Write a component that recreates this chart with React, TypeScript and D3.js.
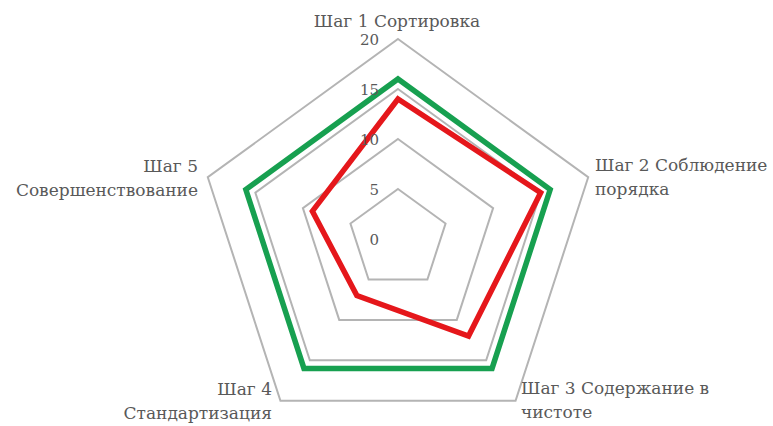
import * as d3 from "d3";

const categories = [
    ["Шаг 1 Сортировка"],
    ["Шаг 2 Соблюдение", "порядка"],
    ["Шаг 3 Содержание в", "чистоте"],
    ["Шаг 4", "Стандартизация"],
    ["Шаг 5", "Совершенствование"],
];
const greenValues = [16, 16, 16, 16, 16];
const redValues = [14, 15, 12, 7, 9];
const ticks = [0, 5, 10, 15, 20];

const width = 773;
const height = 426;
const cx = 398;
const cy = 239;

// label placement for each spoke: anchor + x + first line y
const labelPos = [
    { anchor: "middle", x: 397, y: 27 },
    { anchor: "start", x: 595, y: 171 },
    { anchor: "start", x: 521, y: 394 },
    { anchor: "end", x: 272, y: 395 },
    { anchor: "end", x: 198, y: 172 },
];

export default function App() {
    const r = d3.scaleLinear().domain([0, 20]).range([0, 200]);
    const angle = (i: number) => (i * 2 * Math.PI) / categories.length;
    const pt = (v: number, i: number): [number, number] => [
        cx + r(v) * Math.sin(angle(i)),
        cy - r(v) * Math.cos(angle(i)),
    ];

    const ring = d3
        .line<number>()
        .x((d, i) => pt(d, i)[0])
        .y((d, i) => pt(d, i)[1])
        .curve(d3.curveLinearClosed);

    return (
        <svg width={width} height={height} style={{ position: "absolute", left: 0, top: 0, background: "#fff" }}>
            <g fill="none" stroke="#b4b4b4" strokeWidth="2">
                {ticks.slice(1).map((t) => (
                    <path key={t} d={String(ring(categories.map(() => t)))} />
                ))}
            </g>
            <path d={String(ring(greenValues))} fill="none" stroke="#17a050" strokeWidth="5.5" strokeLinejoin="miter" />
            <path d={String(ring(redValues))} fill="none" stroke="#e5171b" strokeWidth="5.5" strokeLinejoin="miter" />
            <g fontFamily="DejaVu Serif, serif" fontSize="15" fill="#595959" textAnchor="end">
                {ticks.map((t) => (
                    <text key={t} x={cx - 19} y={cy - r(t) + 6}>
                        {t}
                    </text>
                ))}
            </g>
            <g fontFamily="DejaVu Serif, serif" fontSize="17" fill="#595959">
                {categories.map((lines, i) => (
                    <text key={i} x={labelPos[i].x} y={labelPos[i].y} textAnchor={labelPos[i].anchor}>
                        {lines.map((l, j) => (
                            <tspan key={j} x={labelPos[i].x} dy={j === 0 ? 0 : 24}>
                                {l}
                            </tspan>
                        ))}
                    </text>
                ))}
            </g>
        </svg>
    );
}
